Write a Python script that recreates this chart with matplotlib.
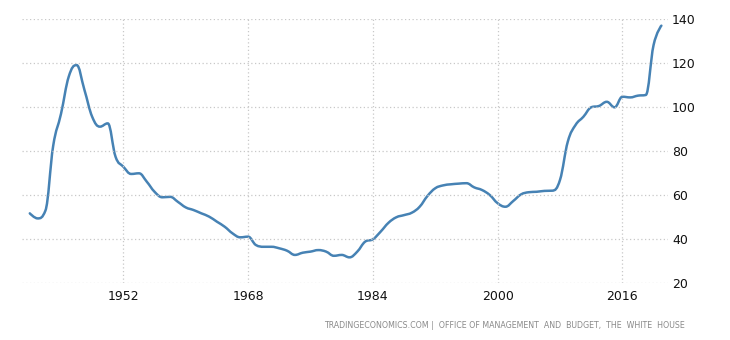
import numpy as np
import matplotlib.pyplot as plt
from matplotlib.path import Path
from matplotlib.patches import PathPatch

# US government debt to GDP, percent
years = list(range(1940, 2022))
debt_to_gdp = [
    51.8, 49.5, 53.0, 82.5, 97.0, 114.0, 119.2, 108.0, 95.7, 91.2,
    92.7, 77.5, 73.0, 69.7, 70.0, 66.2, 61.6, 59.1, 59.3, 57.0,
    54.5, 53.3, 51.8, 50.3, 48.0, 45.7, 42.7, 40.9, 41.2, 37.4,
    36.6, 36.6, 35.9, 34.8, 32.9, 33.9, 34.4, 35.1, 34.4, 32.5,
    32.9, 31.8, 34.4, 38.9, 40.0, 43.5, 47.5, 50.0, 51.0, 52.1,
    54.8, 59.7, 63.2, 64.5, 65.0, 65.3, 65.5, 63.6, 62.4, 60.1,
    56.4, 54.8, 57.4, 60.4, 61.4, 61.6, 62.0, 62.1, 67.0, 84.4,
    92.0, 95.7, 100.0, 100.6, 102.5, 100.0, 104.8, 104.5, 105.3, 105.6,
    128.3, 137.1,
]
x_ticks = [1952, 1968, 1984, 2000, 2016]
y_ticks = [20, 40, 60, 80, 100, 120, 140]
source = "TRADINGECONOMICS.COM |  OFFICE OF MANAGEMENT  AND  BUDGET,  THE  WHITE  HOUSE"


def spline_path(xs, ys, smoothing=1.5):
    """Bezier path through the points, highcharts-style spline."""
    n = len(xs)
    left = [(xs[0], ys[0])] * n
    right = [(xs[0], ys[0])] * n
    for i in range(n):
        px, py = xs[i], ys[i]
        if i == 0 or i == n - 1:
            left[i] = right[i] = (px, py)
            continue
        lx0, ly0 = xs[i - 1], ys[i - 1]
        nx, ny = xs[i + 1], ys[i + 1]
        d = smoothing + 1
        lcx, lcy = (smoothing * px + lx0) / d, (smoothing * py + ly0) / d
        rcx, rcy = (smoothing * px + nx) / d, (smoothing * py + ny) / d
        corr = (rcy - lcy) * (rcx - px) / (rcx - lcx) + py - rcy
        lcy += corr
        rcy += corr
        if lcy > ly0 and lcy > py:
            lcy = max(ly0, py)
            rcy = 2 * py - lcy
        elif lcy < ly0 and lcy < py:
            lcy = min(ly0, py)
            rcy = 2 * py - lcy
        if rcy > ny and rcy > py:
            rcy = max(ny, py)
            lcy = 2 * py - rcy
        elif rcy < ny and rcy < py:
            rcy = min(ny, py)
            lcy = 2 * py - rcy
        left[i] = (lcx, lcy)
        right[i] = (rcx, rcy)
    verts = [(xs[0], ys[0])]
    codes = [Path.MOVETO]
    for i in range(1, n):
        verts += [right[i - 1], left[i], (xs[i], ys[i])]
        codes += [Path.CURVE4] * 3
    return Path(verts, codes)


fig = plt.figure(figsize=(7.3, 3.4), dpi=100)
ax = fig.add_axes([22 / 730, 1 - 283.3 / 340, 646 / 730, 264 / 340])

path = spline_path(years, debt_to_gdp)
ax.add_patch(PathPatch(path, facecolor="none", edgecolor="#4682b4",
                       lw=1.8, capstyle="round", joinstyle="round"))

ax.set_xlim(1939.0, 2021.85)
ax.set_ylim(20, 140)
ax.set_xticks(x_ticks)
ax.set_yticks(y_ticks)
ax.yaxis.tick_right()
ax.tick_params(length=0, labelsize=9, labelcolor="#111111")
ax.tick_params(axis="y", pad=3)
ax.tick_params(axis="x", pad=5)
ax.grid(True, color="#c8c8c8", linestyle=(0, (1, 2)), linewidth=0.9)
for s in ax.spines.values():
    s.set_visible(False)

fig.text(685 / 730, 1 - 325 / 340, source, ha="right", va="center",
         fontsize=5.65, color="#8a8a8a")

fig.savefig("out.png", dpi=100)
